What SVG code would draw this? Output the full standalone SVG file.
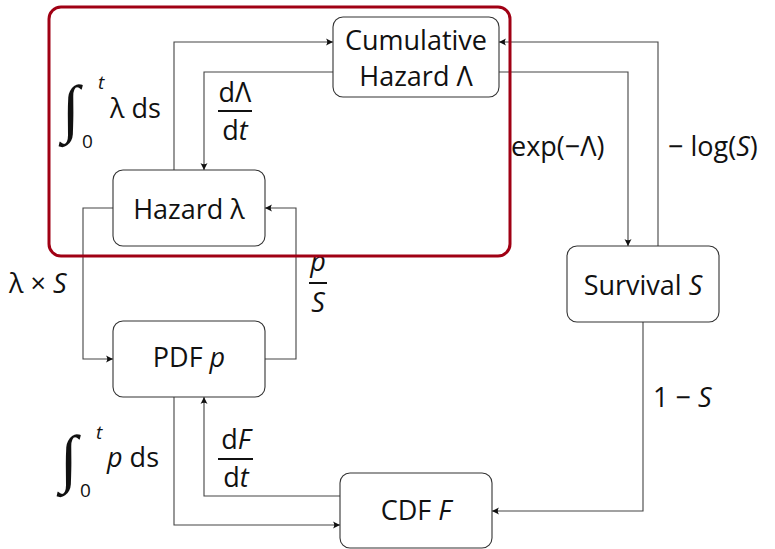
<svg xmlns="http://www.w3.org/2000/svg" width="775" height="549" viewBox="0 0 775 549">
<defs>
<style>
.node rect{fill:#fff;stroke:#333;stroke-width:1.1}
.t{font-family:"Open Sans","Noto Sans",sans-serif;font-size:27px;fill:#111}
.c{text-anchor:middle}
.i{font-style:italic}
.conn path{fill:none;stroke:#444;stroke-width:1.1;marker-end:url(#ah)}
.bar{stroke:#111;stroke-width:2}
.int{font-family:"Liberation Serif",serif;font-style:italic;font-size:64px;fill:#111}
.sm{font-size:19px}
</style>
<marker id="ah" markerUnits="userSpaceOnUse" viewBox="-8 -4 9 8" markerWidth="9" markerHeight="8" refX="0" refY="0" orient="auto">
<path d="M0,0 L-7,-3.5 Q-4.5,0 -7,3.5 Z" fill="#111"/>
</marker>
</defs>
<rect width="775" height="549" fill="#fff"/>
<g id="connectors" class="conn">
<path d="M174,170 V42 H333"/>
<path d="M333,72 H204 V170"/>
<path d="M499,72 H628 V246"/>
<path d="M658,246 V42 H499"/>
<path d="M113,208 H83 V359 H113"/>
<path d="M265,359 H296 V208 H265"/>
<path d="M174,397 V525 H340"/>
<path d="M340,496 H204 V397"/>
<path d="M643,322 V511 H492"/>
</g>
<g id="labels" class="t">
<text class="int" x="62" y="130">∫</text>
<text class="t i sm" x="98" y="89">t</text>
<text class="t sm" x="82" y="148">0</text>
<text class="t" x="110" y="118">λ ds</text>
<text class="t c" x="235" y="102">dΛ</text>
<line class="bar" x1="218" y1="111" x2="252" y2="111"/>
<text class="t c" x="235" y="140">d<tspan class="i">t</tspan></text>
<text class="t" x="511" y="156">exp(−Λ)</text>
<text class="t" x="668" y="156">− log(<tspan class="i">S</tspan>)</text>
<text class="t" x="9" y="293">λ × <tspan class="i">S</tspan></text>
<text class="t c i" x="318" y="271">p</text>
<line class="bar" x1="309" y1="283" x2="327" y2="283"/>
<text class="t c i" x="318" y="312">S</text>
<text class="t" x="653" y="407">1 − <tspan class="i">S</tspan></text>
<text class="int" x="60" y="480">∫</text>
<text class="t i sm" x="96" y="439">t</text>
<text class="t sm" x="80" y="497">0</text>
<text class="t" x="107" y="467"><tspan class="i">p</tspan> ds</text>
<text class="t c" x="236" y="449">d<tspan class="i">F</tspan></text>
<line class="bar" x1="218" y1="459" x2="253" y2="459"/>
<text class="t c" x="236" y="487">d<tspan class="i">t</tspan></text>
</g>
<g id="node-cumulative" class="node">
<rect x="333" y="17" width="166" height="80" rx="10"/>
<text class="t c" x="416" y="50">Cumulative</text>
<text class="t c" x="416" y="86">Hazard Λ</text>
</g>
<g id="node-hazard" class="node">
<rect x="113" y="170" width="152" height="76" rx="10"/>
<text class="t c" x="189" y="219">Hazard λ</text>
</g>
<g id="node-survival" class="node">
<rect x="567" y="246" width="152" height="76" rx="10"/>
<text class="t c" x="643" y="295">Survival <tspan class="i">S</tspan></text>
</g>
<g id="node-pdf" class="node">
<rect x="113" y="321" width="152" height="76" rx="10"/>
<text class="t c" x="189" y="367">PDF <tspan class="i">p</tspan></text>
</g>
<g id="node-cdf" class="node">
<rect x="340" y="473" width="152" height="75" rx="10"/>
<text class="t c" x="416" y="520">CDF <tspan class="i">F</tspan></text>
</g>
<g id="group-hazard">
<rect x="49" y="7" width="461" height="249" rx="12" fill="none" stroke="#A00014" stroke-width="3"/>
</g>
</svg>
